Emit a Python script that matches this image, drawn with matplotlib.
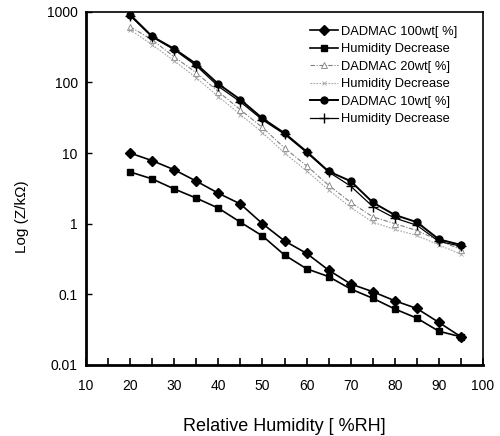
import numpy as np
import matplotlib.pyplot as plt

plt.rcParams['font.family'] = ['Liberation Sans', 'DejaVu Sans']

rh = [20, 25, 30, 35, 40, 45, 50, 55, 60, 65, 70, 75, 80, 85, 90, 95]

# DADMAC 100wt
d100_up = [10.0, 7.8, 5.8, 4.0, 2.7, 1.9, 1.0, 0.57, 0.38, 0.22, 0.14, 0.109, 0.081, 0.063, 0.040, 0.025]
d100_down = [5.4, 4.3, 3.1, 2.3, 1.66, 1.05, 0.67, 0.36, 0.23, 0.178, 0.119, 0.088, 0.062, 0.046, 0.030, 0.025]

# DADMAC 20wt
d20_up = [613, 401, 230, 137, 74, 41, 23, 11.8, 6.6, 3.5, 2.0, 1.25, 1.0, 0.8, 0.58, 0.43]
d20_down = [556, 341, 202, 116, 63, 35, 19.5, 10.0, 5.6, 3.0, 1.7, 1.05, 0.83, 0.68, 0.50, 0.37]

# DADMAC 10wt
d10_up = [908, 447, 299, 182, 95, 57, 31, 19.1, 10.5, 5.5, 4.0, 2.0, 1.33, 1.05, 0.60, 0.50]
d10_down = [880, 440, 290, 172, 88, 53, 29.5, 18.5, 10.2, 5.4, 3.4, 1.75, 1.2, 0.95, 0.56, 0.48]

labels = ['DADMAC 100wt[ %]', 'Humidity Decrease',
          'DADMAC 20wt[ %]', 'Humidity Decrease',
          'DADMAC 10wt[ %]', 'Humidity Decrease']

fig = plt.figure(figsize=(5.0, 4.36), dpi=100)
ax = fig.add_axes([0.172, 0.163, 0.794, 0.81])

ax.plot(rh, d100_up, color='black', lw=1.2, marker='D', ms=5, label=labels[0])
ax.plot(rh, d100_down, color='black', lw=1.2, marker='s', ms=5, label=labels[1])
ax.plot(rh, d20_up, color='0.5', lw=0.8, ls=(0, (4, 1.5, 1, 1.5)), marker='^', ms=4,
        mfc='white', mec='0.5', mew=0.6, label=labels[2])
ax.plot(rh, d20_down, color='0.65', lw=0.8, ls=(0, (1.5, 1.2)), marker='x', ms=3,
        mec='0.65', mew=0.6, label=labels[3])
ax.plot(rh, d10_up, color='black', lw=1.4, marker='o', ms=5, label=labels[4])
ax.plot(rh, d10_down, color='black', lw=0.9, marker='+', ms=7, mew=1.0, label=labels[5])

ax.set_yscale('log')
ax.set_ylim(0.01, 1000)
ax.set_xlim(10, 100)
ax.set_yticks([0.01, 0.1, 1, 10, 100, 1000])
ax.set_yticklabels(['0.01', '0.1', '1', '10', '100', '1000'])
ax.yaxis.set_minor_locator(plt.NullLocator())
ax.set_xticks(np.arange(10, 101, 10))
ax.set_xticks(np.arange(15, 100, 10), minor=True)

ax.tick_params(axis='x', which='both', direction='in', length=5, width=1.2, labelsize=10, pad=10)
ax.tick_params(axis='y', which='major', direction='in', length=4, width=1.0, labelsize=10, pad=6)

for side in ['left', 'bottom']:
    ax.spines[side].set_linewidth(2.0)
for side in ['top', 'right']:
    ax.spines[side].set_linewidth(1.2)

ax.set_xlabel('Relative Humidity [ %RH]', fontsize=13, labelpad=18)
ax.set_ylabel('Log (Z/k\u03a9)', fontsize=11)
ax.yaxis.set_label_coords(-0.144, 0.42)

ax.legend(loc='upper left', bbox_to_anchor=(0.55, 0.975), frameon=False, fontsize=9.3,
          handlelength=2.2, handletextpad=0.25, labelspacing=0.42, borderaxespad=0.0)

fig.savefig('out.png', dpi=100)
